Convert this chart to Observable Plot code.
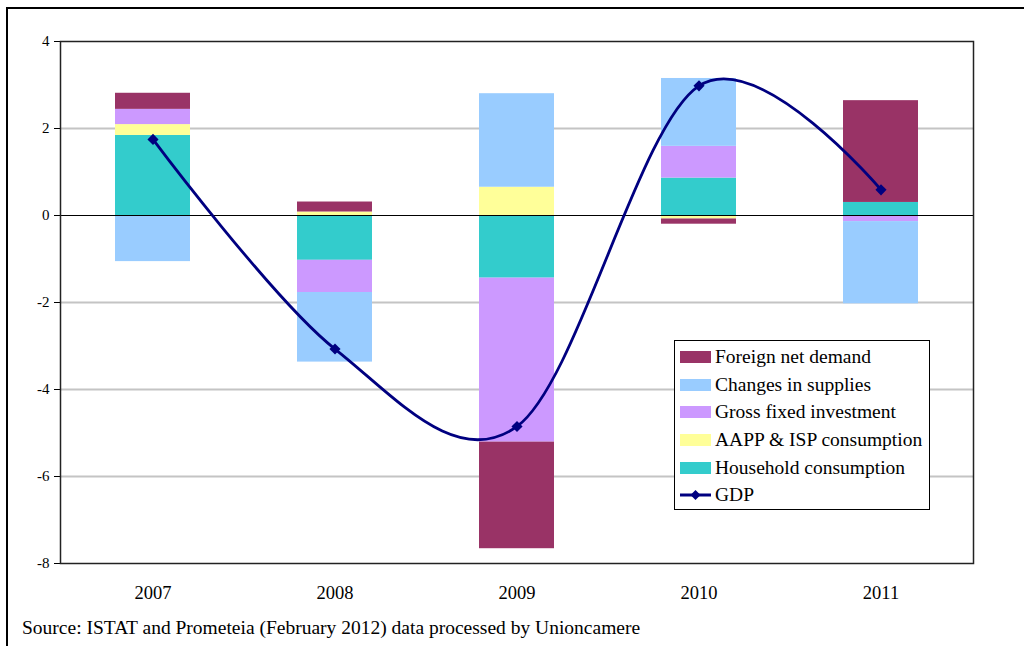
<!DOCTYPE html>
<html>
<head>
<meta charset="utf-8">
<script src="https://cdn.jsdelivr.net/npm/d3@7"></script>
<script src="https://cdn.jsdelivr.net/npm/@observablehq/plot@0.6"></script>
<style>
  html, body { margin: 0; padding: 0; background: #fff; }
  body { width: 1024px; height: 646px; position: relative; overflow: hidden;
         font-family: "Liberation Serif", serif; }
  #frame { position: absolute; left: 6px; top: 7px; width: 1100px; height: 700px;
           border-left: 2px solid #000; border-top: 2px solid #000; }
  #chart { position: absolute; left: 0; top: 0; }
  #legend { position: absolute; left: 674px; top: 340px; width: 254px; height: 166px;
            border: 1px solid #000; background: #fff; padding-top: 2px; box-sizing: content-box;
            font-family: "Liberation Serif", serif; }
  .row { height: 27.7px; display: flex; align-items: center; font-size: 19.5px; color: #000; white-space: nowrap; }
  .sw { width: 31px; height: 12px; margin-left: 5px; margin-right: 4px; flex: none; }
  #caption { position: absolute; left: 22px; top: 617px; font-size: 19.5px; color: #000; white-space: nowrap;
             font-family: "Liberation Serif", serif; }
</style>
</head>
<body>
<div id="frame"></div>
<div id="chart"></div>
<div id="legend"></div>
<div id="caption">Source: ISTAT and Prometeia (February 2012) data processed by Unioncamere</div>
<script>
// Contributions to GDP growth by component (percentage points)
const years = ["2007", "2008", "2009", "2010", "2011"];
const household = [1.84, -1.03, -1.44, 0.86, 0.30];
const aapp      = [0.25, 0.08, 0.65, -0.08, 0.00];
const gross     = [0.35, -0.74, -3.77, 0.73, -0.14];
const changes   = [-1.06, -1.60, 2.15, 1.56, -1.89];
const foreign   = [0.37, 0.23, -2.45, -0.12, 2.34];
const gdp       = [1.75, -3.07, -4.85, 2.98, 0.59];
const yTicks    = [-8, -6, -4, -2, 0, 2, 4];

// Components in stacking order (bottom first)
const components = [
  {name: "Household consumption", values: household, color: "#33CCCC"},
  {name: "AAPP & ISP consumption", values: aapp, color: "#FFFF99"},
  {name: "Gross fixed investment", values: gross, color: "#CC99FF"},
  {name: "Changes in supplies", values: changes, color: "#99CCFF"},
  {name: "Foreign net demand", values: foreign, color: "#993366"}
];

const bars = [];
years.forEach((year, i) => {
  components.forEach(c => bars.push({year, component: c.name, value: c.values[i]}));
});
const gdpRows = years.map((year, i) => ({year, value: gdp[i]}));

const chart = Plot.plot({
  width: 1024,
  height: 610,
  marginLeft: 60,
  marginRight: 51,
  marginTop: 41,
  marginBottom: 47,
  style: {fontFamily: "'Liberation Serif', serif", background: "transparent"},
  x: {domain: years, paddingInner: 0.59, paddingOuter: 0.295},
  y: {domain: [-8, 4]},
  color: {domain: components.map(c => c.name), range: components.map(c => c.color)},
  marks: [
    Plot.ruleY(yTicks.filter(t => t !== 0 && t !== -8 && t !== 4), {stroke: "#c4c4c4", strokeWidth: 2}),
    Plot.barY(bars, {x: "year", y: "value", fill: "component", insetLeft: 0, insetRight: 0}),
    Plot.ruleY([0], {stroke: "#000", strokeWidth: 1}),
    Plot.line(gdpRows, {x: "year", y: "value", curve: "cardinal", stroke: "#000080", strokeWidth: 2.8}),
    Plot.dot(gdpRows, {x: "year", y: "value", symbol: "diamond2", r: 5, fill: "#000080", stroke: "none"}),
    Plot.axisY({ticks: yTicks, tickSize: 6, tickPadding: 5, fontSize: 15, tickFormat: d => String(d), label: null, stroke: "#000"}),
    Plot.axisX({tickSize: 0, tickPadding: 22, fontSize: 18.5, label: null}),
    Plot.frame({stroke: "#222", strokeWidth: 1.5})
  ]
});
document.getElementById("chart").appendChild(chart);

// Legend: listed top-down in reverse stacking order, then GDP
const legend = document.getElementById("legend");
components.slice().reverse().forEach(c => {
  const row = document.createElement("div");
  row.className = "row";
  row.innerHTML = `<span class="sw" style="background:${c.color}"></span><span>${c.name}</span>`;
  legend.appendChild(row);
});
const gdpRow = document.createElement("div");
gdpRow.className = "row";
gdpRow.innerHTML = `<svg class="sw" width="31" height="12" style="height:12px" viewBox="0 0 31 12">
  <line x1="0" y1="6" x2="31" y2="6" stroke="#000080" stroke-width="3"/>
  <path d="M15.5 1 L20.5 6 L15.5 11 L10.5 6 Z" fill="#000080"/></svg><span>GDP</span>`;
legend.appendChild(gdpRow);
</script>
</body>
</html>
